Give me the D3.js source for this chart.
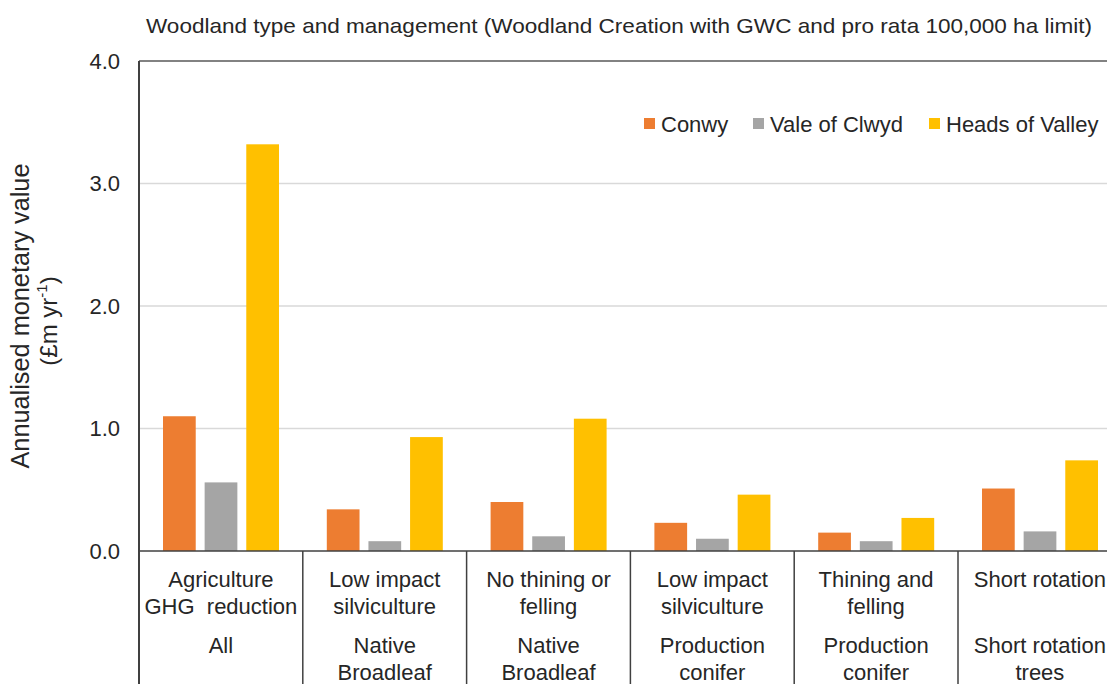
<!DOCTYPE html>
<html>
<head>
  <meta http-equiv="Content-Type" content="text/html; charset=utf-8"/>
  <title>Woodland type and management</title>
  <script src="https://d3js.org/d3.v7.min.js"></script>
  <style>
    body { margin: 0; background: #fff; }
    svg { display: block; font-family: "Liberation Sans", Arial, sans-serif; }
  </style>
</head>
<body>
<svg></svg>
<script type="text/javascript">

// data
const management = [
  ["Agriculture", "GHG  reduction"],
  ["Low impact", "silviculture"],
  ["No thining or", "felling"],
  ["Low impact", "silviculture"],
  ["Thining and", "felling"],
  ["Short rotation"]
];
const woodlandType = [
  ["All"],
  ["Native", "Broadleaf"],
  ["Native", "Broadleaf"],
  ["Production", "conifer"],
  ["Production", "conifer"],
  ["Short rotation", "trees"]
];
const series = ["Conwy", "Vale of Clwyd", "Heads of Valley"];
const colors = ["#ed7d31", "#a5a5a5", "#ffc000"];
const conwy = [1.10, 0.34, 0.40, 0.23, 0.15, 0.51];
const valeOfClwyd = [0.56, 0.08, 0.12, 0.10, 0.08, 0.16];
const headsOfValley = [3.32, 0.93, 1.08, 0.46, 0.27, 0.74];
const yTicks = [0, 1, 2, 3, 4];

const values = [conwy, valeOfClwyd, headsOfValley];
const cats = d3.range(management.length);

const width = 1107, height = 684;
const svg = d3.select("svg")
    .attr("width", width)
    .attr("height", height);

const plotLeft = 139, plotTop = 61, plotBottom = 551;
const catW = 163.8;

const x = d3.scaleBand()
    .domain(cats)
    .range([plotLeft, plotLeft + catW * cats.length]);

const xInner = d3.scaleBand()
    .domain(series)
    .range([24, 140])
    .paddingInner(0.214);

const y = d3.scaleLinear()
    .domain([0, 4])
    .range([plotBottom, plotTop]);

// title
svg.append("text")
    .attr("x", 619)
    .attr("y", 33)
    .attr("text-anchor", "middle")
    .attr("font-size", 21)
    .attr("fill", "#262626")
    .attr("textLength", 946)
    .attr("lengthAdjust", "spacingAndGlyphs")
    .text("Woodland type and management (Woodland Creation with GWC and pro rata 100,000 ha limit)");

// gridlines
svg.append("g")
  .selectAll("line")
  .data(yTicks.filter(d => d > 0 && d < 4))
  .join("line")
    .attr("x1", plotLeft)
    .attr("x2", width)
    .attr("y1", d => y(d))
    .attr("y2", d => y(d))
    .attr("stroke", "#d9d9d9")
    .attr("stroke-width", 1.5);

// top border
svg.append("line")
    .attr("x1", plotLeft).attr("x2", width)
    .attr("y1", y(4)).attr("y2", y(4))
    .attr("stroke", "#595959")
    .attr("stroke-width", 1.5);

// bars
svg.append("g")
  .selectAll("g")
  .data(values)
  .join("g")
    .attr("fill", (d, i) => colors[i])
  .selectAll("rect")
  .data((d, i) => d.map((v, j) => ({ s: series[i], j, v })))
  .join("rect")
    .attr("x", d => x(d.j) + xInner(d.s))
    .attr("width", xInner.bandwidth())
    .attr("y", d => y(d.v))
    .attr("height", d => y(0) - y(d.v));

// y axis
const yAxis = d3.axisLeft(y)
    .tickValues(yTicks)
    .tickFormat(d3.format(".1f"))
    .tickSize(0)
    .tickPadding(19);

svg.append("g")
    .attr("transform", `translate(${plotLeft},0)`)
    .call(yAxis)
    .call(g => g.select(".domain").remove())
    .call(g => g.selectAll("text")
        .attr("font-size", 22)
        .attr("font-family", "Liberation Sans, Arial, sans-serif")
        .attr("fill", "#262626"));

// zero line
svg.append("line")
    .attr("x1", plotLeft).attr("x2", width)
    .attr("y1", y(0)).attr("y2", y(0))
    .attr("stroke", "#404040")
    .attr("stroke-width", 1.5);

// category separators
svg.append("g")
  .selectAll("line")
  .data(d3.range(1, cats.length + 1))
  .join("line")
    .attr("x1", d => plotLeft + catW * d)
    .attr("x2", d => plotLeft + catW * d)
    .attr("y1", y(0))
    .attr("y2", height)
    .attr("stroke", "#404040")
    .attr("stroke-width", 1.5);

// left axis line
svg.append("line")
    .attr("x1", plotLeft).attr("x2", plotLeft)
    .attr("y1", plotTop).attr("y2", height)
    .attr("stroke", "#404040")
    .attr("stroke-width", 2);

// category labels
const lab = svg.append("g")
    .attr("font-size", 22)
    .attr("fill", "#262626")
    .attr("text-anchor", "middle");

function labelRows(rows, y0) {
  lab.append("g")
    .selectAll("text")
    .data(rows)
    .join("text")
      .attr("xml:space", "preserve")
      .attr("x", (d, i) => x(i) + x.bandwidth() / 2)
      .attr("y", y0)
    .selectAll("tspan")
    .data(d => d)
    .join("tspan")
      .attr("x", function() { return this.parentNode.getAttribute("x"); })
      .attr("dy", (d, i) => i ? 26.5 : 0)
      .text(d => d);
}
labelRows(management, 587);
labelRows(woodlandType, 653);

// y title
svg.append("text")
    .attr("transform", "translate(29,316) rotate(-90)")
    .attr("text-anchor", "middle")
    .attr("font-size", 25)
    .attr("fill", "#262626")
    .attr("textLength", 305)
    .attr("lengthAdjust", "spacingAndGlyphs")
    .text("Annualised monetary value");

const yt2 = svg.append("text")
    .attr("transform", "translate(57,321) rotate(-90)")
    .attr("text-anchor", "middle")
    .attr("font-size", 24)
    .attr("fill", "#262626");
yt2.append("tspan").text("(£m yr");
yt2.append("tspan").attr("font-size", 15).attr("dy", -10).text("-1");
yt2.append("tspan").attr("dy", 10).text(")");

// legend
const legendX = [644, 753, 929];
const legend = svg.append("g")
  .selectAll("g")
  .data(series)
  .join("g")
    .attr("transform", (d, i) => `translate(${legendX[i]},118)`);

legend.append("rect")
    .attr("width", 11)
    .attr("height", 11)
    .attr("fill", (d, i) => colors[i]);

legend.append("text")
    .attr("x", 17)
    .attr("y", 13.5)
    .attr("font-size", 22)
    .attr("fill", "#262626")
    .text(d => d);

</script>
</body>
</html>
